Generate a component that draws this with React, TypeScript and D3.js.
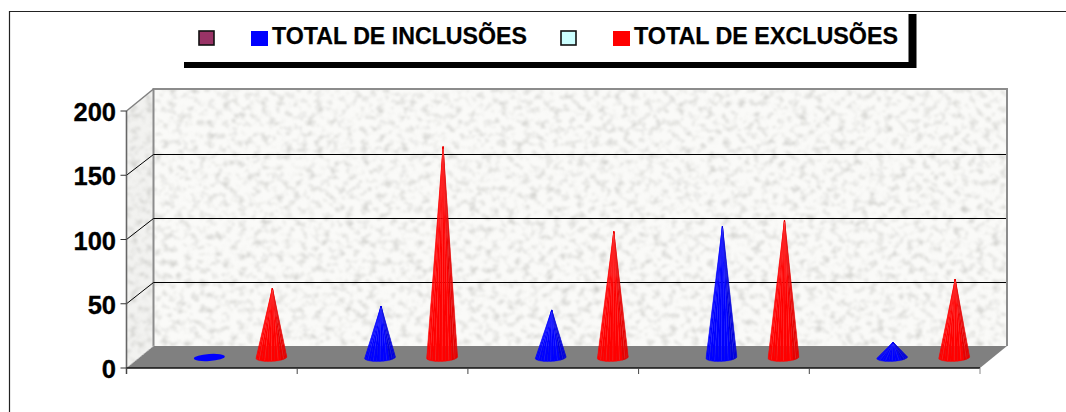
import React from "react";
import * as d3 from "d3";

const categories = ["A", "B", "C", "D", "E"];
const seriesNames = ["s0", "TOTAL DE INCLUSÕES", "s2", "TOTAL DE EXCLUSÕES"];
const inclusoes = [0.5, 40, 37, 102, 12];
const exclusoes = [54, 164, 98, 107, 61];
const yTicks = [0, 50, 100, 150, 200];
const seriesValues = [
  { name: seriesNames[1], idx: 1, values: inclusoes, base: "#0000ff", dark: "#0000dc", light: "#5555ff" },
  { name: seriesNames[3], idx: 3, values: exclusoes, base: "#ff0000", dark: "#e60000", light: "#ff6a6a" },
];
const legendSwatches = [
  { x: 199, w: 15, y: 31, h: 14, fill: "#993366", stroke: "#111" },
  { x: 251, w: 17, y: 31, h: 15, fill: "#0000ff", stroke: "none" },
  { x: 561, w: 15, y: 31, h: 14, fill: "#ccffff", stroke: "#111" },
  { x: 613, w: 17, y: 31, h: 15, fill: "#ff0000", stroke: "none" },
];

const DX = 27;
const DY = -22;
const x0 = d3.scaleBand<string>().domain(categories).range([126.5, 980]);
const xS = d3.scaleBand<number>().domain([0, 1, 2, 3]).range([0, x0.bandwidth()]).paddingOuter(0.75).paddingInner(0);
const y = d3.scaleLinear().domain([0, 200]).range([368, 111]);
const poly = d3.line<[number, number]>().x((d) => d[0]).y((d) => d[1]);
const closed = (pts: [number, number][]) => poly(pts) + "Z";

function Cone({ cx, v, s }: { cx: number; v: number; s: (typeof seriesValues)[number] }) {
  const baseY = y(0) + DY / 2 + 0.5;
  const tipY = y(v) + DY / 2 + 0.5;
  const rx = 15.5;
  const ry = 4;
  const tilt = -0.05;
  const n = 14;
  const angles = d3.range(n + 1).map((i) => (Math.PI * i) / n);
  const rim = angles.map((a): [number, number] => {
    const ex = -Math.cos(a) * rx;
    return [cx + ex, baseY + Math.sin(a) * ry + ex * tilt];
  });
  const tip: [number, number] = [cx + 1, tipY];
  if (v < 2) {
    return <ellipse cx={cx} cy={baseY} rx={rx} ry={ry - 0.5} fill={s.base} transform={`rotate(-4 ${cx} ${baseY})`} />;
  }
  const facets = d3.pairs(rim);
  return (
    <g>
      {facets.map(([a, b], i) => (
        <path key={i} d={closed([tip, a, b])} fill={i > n * 0.7 ? s.dark : s.base} stroke={i > n * 0.7 ? s.dark : s.base} strokeWidth={0.3} />
      ))}
      {rim.slice(3, n - 1).filter((_, i) => i % 2 === 0).map((p, i) => (
        <line key={i} x1={tip[0]} y1={tip[1] + 2} x2={p[0]} y2={p[1] - 1} stroke={s.light} strokeWidth={0.5} opacity={0.4} />
      ))}
    </g>
  );
}

export default function App() {
  const L = 126.5, R = 980, B = y(0), T = y(200);
  const back = closed([[L + DX, T + DY], [R + DX, T + DY], [R + DX, B + DY], [L + DX, B + DY]]);
  const side = closed([[L, T], [L + DX, T + DY], [L + DX, B + DY], [L, B]]);
  const floor = closed([[L, B], [L + DX, B + DY], [R + DX, B + DY], [R, B]]);
  const xTicks = [...categories.map((c) => x0(c)!), R];
  return (
    <svg width={1066} height={412} style={{ position: "absolute", left: 0, top: 0, background: "#fff" }}
      fontFamily="'Liberation Sans', Arial, sans-serif">
      <defs>
        <filter id="mottle" x="0" y="0" width="100%" height="100%" colorInterpolationFilters="sRGB">
          <feTurbulence type="fractalNoise" baseFrequency="0.13 0.15" numOctaves={3} seed={7} />
          <feColorMatrix type="matrix" values="0 0 0 0 0.66  0 0 0 0 0.66  0 0 0 0 0.64  1.25 0 0 0 -0.6" />
          <feGaussianBlur stdDeviation={0.8} />
        </filter>
        <clipPath id="backClip"><path d={back} /></clipPath>
        <clipPath id="sideClip"><path d={side} /></clipPath>
      </defs>

      <path d="M9.5,412V11.5H1066" fill="none" stroke="#222" strokeWidth={1.2} />

      {/* legend */}
      <rect x={184} y={62} width={732} height={6} fill="#000" />
      <rect x={908.5} y={14} width={8} height={54} fill="#000" />
      {legendSwatches.map((d, i) => (
        <rect key={i} x={d.x} y={d.y} width={d.w} height={d.h} fill={d.fill} stroke={d.stroke} strokeWidth={d.stroke === "none" ? 0 : 1.6} />
      ))}
      <text x={272} y={44} fontSize={23.5} fontWeight={700} stroke="#000" strokeWidth={0.25} textLength={255} lengthAdjust="spacingAndGlyphs">{seriesNames[1]}</text>
      <text x={634} y={44} fontSize={23.5} fontWeight={700} stroke="#000" strokeWidth={0.25} textLength={264} lengthAdjust="spacingAndGlyphs">{seriesNames[3]}</text>

      {/* walls */}
      <path d={back} fill="#fafaf8" />
      <g clipPath="url(#backClip)"><rect x={L + DX} y={T + DY} width={R - L} height={B - T} filter="url(#mottle)" /></g>
      <path d={side} fill="#f2f2f0" />
      <g clipPath="url(#sideClip)"><rect x={L} y={T + DY} width={DX} height={B - T - DY} filter="url(#mottle)" /></g>
      <path d={floor} fill="#808080" />
      <path d={`M${L + DX},${B + DY}V${T + DY}H${R + DX}V${B + DY}`} fill="none" stroke="#8c8c8c" strokeWidth={2} />
      <line x1={L} y1={T} x2={L + DX} y2={T + DY} stroke="#808080" strokeWidth={1.5} />
      <line x1={L} y1={B} x2={L + DX} y2={B + DY} stroke="#c8c8c8" strokeWidth={1} strokeDasharray="2 1" />

      {/* grid */}
      {yTicks.filter((t) => t > 0 && t < 200).map((t) => (
        <path key={t} d={`M${L},${y(t)}L${L + DX},${Math.round(y(t) + DY + 0.6) + 0.5}H${R + DX - 1}`} fill="none" stroke="#000" strokeWidth={1} />
      ))}

      {/* axes */}
      <line x1={L} y1={T} x2={L} y2={B + 6} stroke="#666" strokeWidth={1.6} />
      <line x1={L} y1={B} x2={R} y2={B} stroke="#111" strokeWidth={1.4} />
      {yTicks.map((t) => (
        <g key={t}>
          <line x1={L - 6} y1={y(t)} x2={L} y2={y(t)} stroke="#333" strokeWidth={1} />
          <text x={116} y={y(t) + 10} textAnchor="end" fontSize={25.5} fontWeight={700} stroke="#000" strokeWidth={0.3}>{t}</text>
        </g>
      ))}
      {xTicks.map((t, i) => (
        <line key={i} x1={t} y1={B} x2={t} y2={B + 6} stroke={i === xTicks.length - 1 ? "#888" : "#444"} strokeWidth={1} />
      ))}

      {/* cones */}
      {categories.map((c, i) =>
        seriesValues.map((s) => (
          <Cone key={c + s.idx} s={s} v={s.values[i]}
            cx={x0(c)! + xS(s.idx)! + xS.bandwidth() / 2 + DX / 2 - 0.5} />
        ))
      )}
    </svg>
  );
}
